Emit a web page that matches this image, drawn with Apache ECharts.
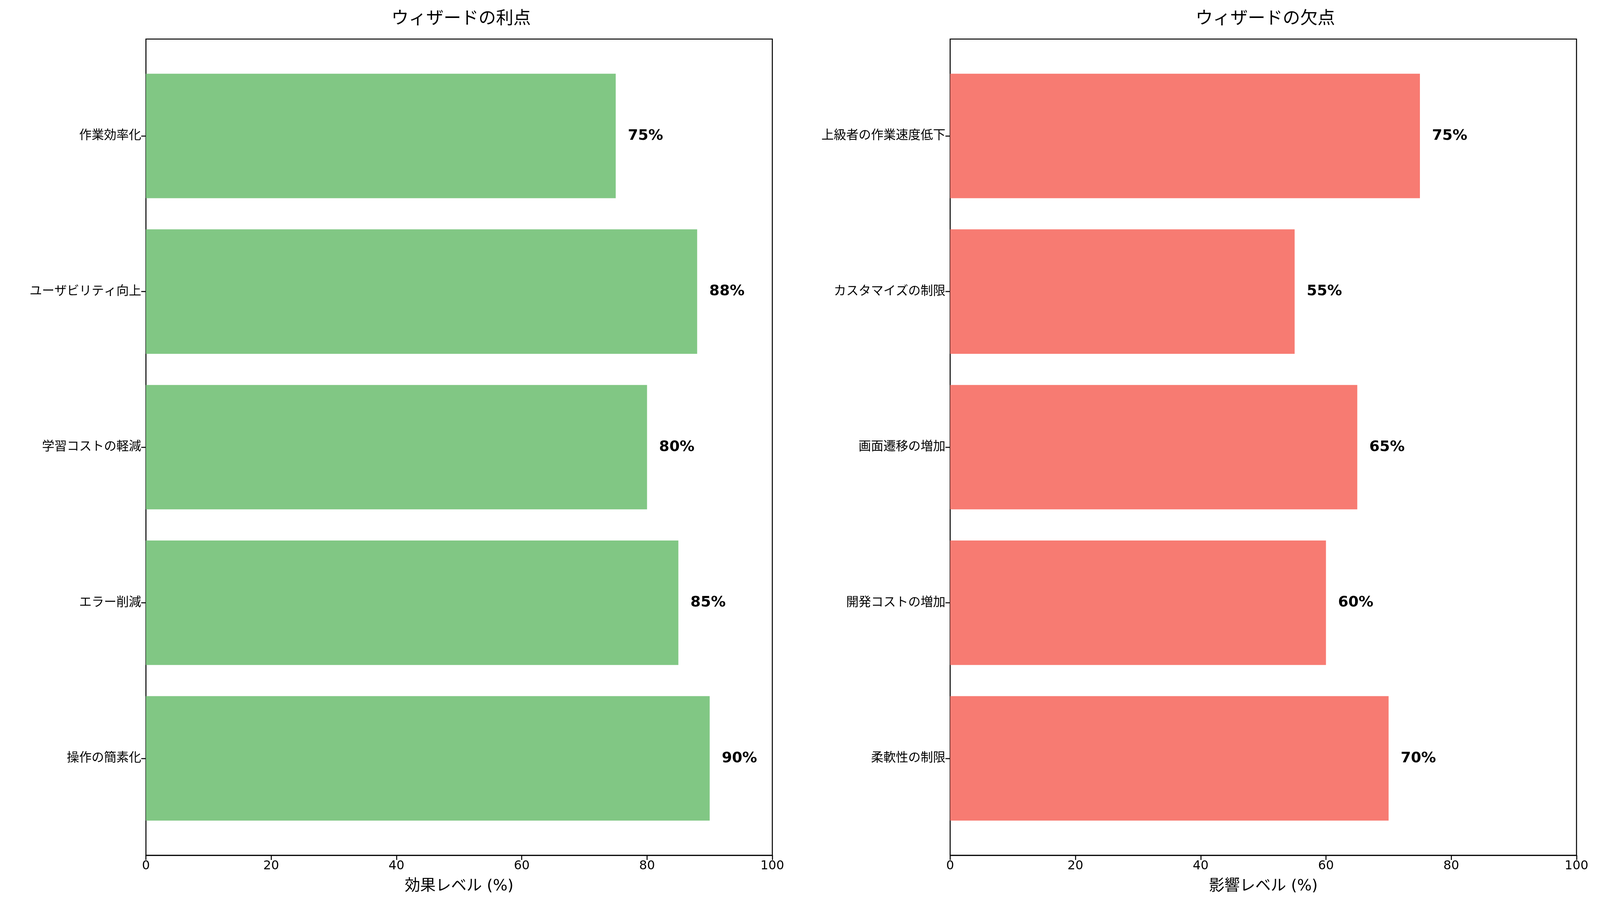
<!DOCTYPE html>
<html><head><meta charset="utf-8">
<script src="https://cdn.jsdelivr.net/npm/echarts@6/dist/echarts.min.js"></script>
<style>html,body{margin:0;padding:0;background:#fff;overflow:hidden}#c{width:100vw;height:100vh}</style>
</head><body><div id="c"></div>
<script>
const proCats = ['作業効率化','ユーザビリティ向上','学習コストの軽減','エラー削減','操作の簡素化'];
const proVals = [75,88,80,85,90];
const conCats = ['上級者の作業速度低下','カスタマイズの制限','画面遷移の増加','開発コストの増加','柔軟性の制限'];
const conVals = [75,55,65,60,70];
const titles = ['ウィザードの利点','ウィザードの欠点'];
const xNames = ['効果レベル (%)','影響レベル (%)'];
const colors = ['#81C784','#F77B72'];
const F = '"DejaVu Sans","Noto Sans CJK JP",sans-serif';
const el = document.getElementById('c');
const CW = el.clientWidth, CH = el.clientHeight;
const s = CW/4769, sy = CH/2366;
const chart = echarts.init(el);
const lefts = [435*s, 2832*s], W = 1867*s, TOP = 100*sy, BOT = (2366-2190)*sy, PAD = 49*sy;
const grid = [], xAxis = [], yAxis = [], series = [], title = [];
[[proCats,proVals],[conCats,conVals]].forEach(([cats,vals],i)=>{
  grid.push({left:lefts[i], width:W, top:TOP, bottom:BOT, show:true, borderColor:'#000', borderWidth:3*s, backgroundColor:'transparent'});
  grid.push({left:lefts[i], width:W, top:TOP+PAD, bottom:BOT+PAD});
  xAxis.push({gridIndex:2*i, type:'value', show:false, min:0, max:100});
  yAxis.push({gridIndex:2*i, type:'value', show:false});
  xAxis.push({gridIndex:2*i+1, type:'value', min:0, max:100, interval:20, offset:PAD,
    axisLine:{show:true, lineStyle:{color:'#000', width:3*s}}, axisTick:{show:true, length:14*s, lineStyle:{color:'#000', width:3*s}},
    axisLabel:{fontSize:37*s, color:'#000', fontFamily:F, margin:14*s}, splitLine:{show:false},
    name:xNames[i], nameLocation:'middle', nameGap:70*s, nameTextStyle:{fontSize:46*s, color:'#000', fontFamily:F}});
  yAxis.push({gridIndex:2*i+1, type:'category', data:cats, inverse:true,
    axisLine:{show:false}, axisTick:{show:true, alignWithLabel:true, length:14*s, lineStyle:{color:'#000', width:3*s}},
    axisLabel:{fontSize:37*s, color:'#000', fontFamily:F, margin:14*s}});
  series.push({type:'bar', xAxisIndex:2*i+1, yAxisIndex:2*i+1, data:vals, barWidth:'80%',
    itemStyle:{color:colors[i]},
    label:{show:true, position:'right', distance:36*s, formatter:'{c}%', fontSize:44*s, fontWeight:'bold', color:'#000', fontFamily:F}});
  title.push({text:titles[i], left:lefts[i]+W/2, top:22*sy, textAlign:'center', textStyle:{fontSize:52*s, fontWeight:'normal', color:'#000', fontFamily:F}});
});
chart.setOption({animation:false, backgroundColor:'#fff', title, grid, xAxis, yAxis, series});
</script></body></html>
